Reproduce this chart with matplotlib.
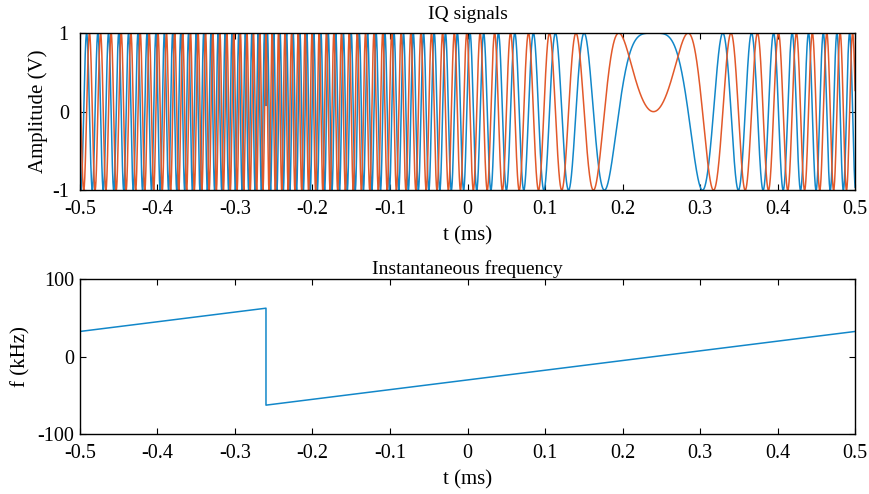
import numpy as np
import matplotlib
matplotlib.use("Agg")
import matplotlib.pyplot as plt

# Instantaneous frequency (kHz vs ms)
t_knots = [-0.5, -0.26, -0.26, 0.5]
f_knots = [32.5, 62.5, -62.5, 32.5]
# the IQ traces oscillate at about twice the plotted frequency (read from cycle spacing)
iq_rate = 2.0
t_phase_zero = 0.24  # where the orange trace touches 0 and the blue one sits at 1

x_ticks = [-0.5, -0.4, -0.3, -0.2, -0.1, 0, 0.1, 0.2, 0.3, 0.4, 0.5]
x_ticklabels = ["-0.5", "-0.4", "-0.3", "-0.2", "-0.1", "0", "0.1", "0.2", "0.3", "0.4", "0.5"]
amp_ticks = [-1, 0, 1]
freq_ticks = [-100, 0, 100]

blue = "#1287c9"
orange = "#e2592a"

plt.rcParams["font.family"] = ["Liberation Serif", "DejaVu Serif"]
plt.rcParams["font.size"] = 14.5
plt.rcParams["axes.unicode_minus"] = False
plt.rcParams["xtick.direction"] = "in"
plt.rcParams["ytick.direction"] = "in"
plt.rcParams["xtick.major.size"] = 4
plt.rcParams["ytick.major.size"] = 4
plt.rcParams["xtick.major.pad"] = 7
plt.rcParams["xtick.top"] = True
plt.rcParams["ytick.right"] = True

# IQ signals built from the chirp frequency
dt = 0.0002
t = np.arange(-0.5, 0.5 + dt / 2, dt)
f = np.interp(t, t_knots[:2], f_knots[:2])
after = t >= t_knots[2]
f[after] = np.interp(t[after], t_knots[2:], f_knots[2:])
phase = 2 * np.pi * np.cumsum(iq_rate * f) * dt
phase = phase - phase[np.argmin(np.abs(t - t_phase_zero))]
I = np.cos(phase)
Q = np.sin(phase)

fig = plt.figure(figsize=(8.69, 4.94), dpi=100)
ax1 = fig.add_axes([0.092, 0.615, 0.892, 0.318])
ax2 = fig.add_axes([0.092, 0.121, 0.892, 0.314])

ax1.plot(t, I, color=blue, lw=1.1)
ax1.plot(t, Q, color=orange, lw=1.1)
ax1.set_xlim(-0.5, 0.5)
ax1.set_ylim(-1, 1)
ax1.set_xticks(x_ticks)
ax1.set_xticklabels(x_ticklabels)
ax1.set_yticks(amp_ticks)
ax1.tick_params(axis="y", pad=8)
ax1.set_xlabel("t (ms)", fontsize=15, labelpad=5)
ax1.set_ylabel("Amplitude (V)", fontsize=15, labelpad=3)
ax1.set_title("IQ signals", fontsize=14, pad=10)

ax2.plot(t_knots, f_knots, color=blue, lw=1.1)
ax2.set_xlim(-0.5, 0.5)
ax2.set_ylim(-100, 100)
ax2.set_xticks(x_ticks)
ax2.set_xticklabels(x_ticklabels)
ax2.set_yticks(freq_ticks)
ax2.tick_params(axis="y", pad=4)
ax2.set_xlabel("t (ms)", fontsize=15, labelpad=5)
ax2.set_ylabel("f (kHz)", fontsize=15, labelpad=5)
ax2.set_title("Instantaneous frequency", fontsize=14, pad=4)

for ax in (ax1, ax2):
    for s in ax.spines.values():
        s.set_linewidth(1.0)

plt.savefig("out.png", dpi=100)
